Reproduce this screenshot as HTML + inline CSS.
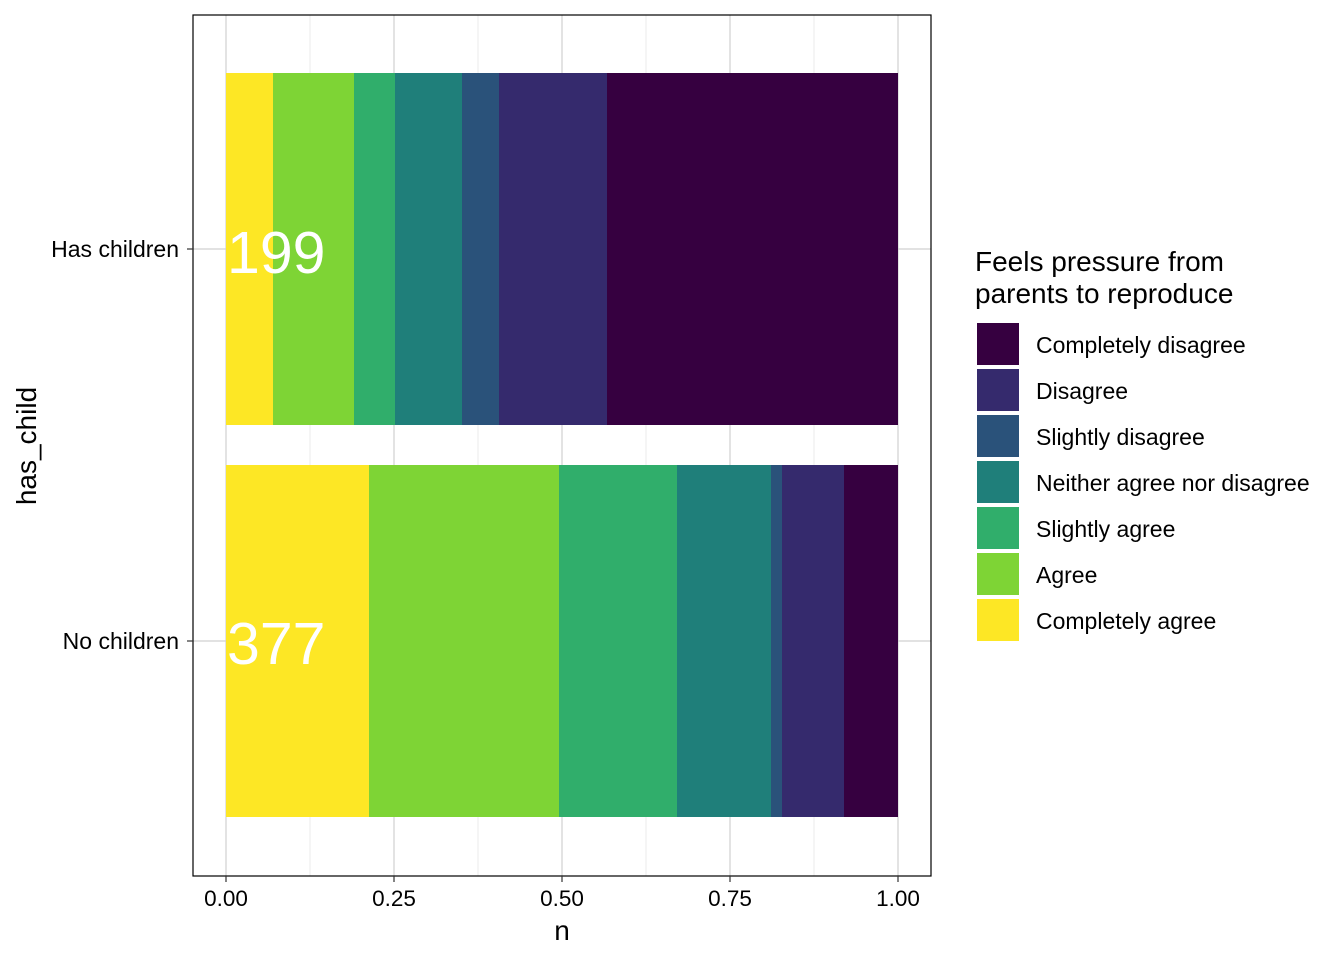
<!DOCTYPE html>
<html><head><style>body{margin:0;background:#fff}</style></head><body>
<svg width="1344" height="960" xmlns="http://www.w3.org/2000/svg" font-family="Liberation Sans, Arial, sans-serif">
<rect width="1344" height="960" fill="#fff"/>
<g stroke="#ebebeb" stroke-width="1">
<line x1="310" y1="15" x2="310" y2="876"/><line x1="478" y1="15" x2="478" y2="876"/><line x1="646" y1="15" x2="646" y2="876"/><line x1="814" y1="15" x2="814" y2="876"/>
</g>
<g stroke="#d0d0d0" stroke-width="1.2">
<line x1="226" y1="15" x2="226" y2="876"/><line x1="394" y1="15" x2="394" y2="876"/><line x1="562" y1="15" x2="562" y2="876"/><line x1="730" y1="15" x2="730" y2="876"/><line x1="898" y1="15" x2="898" y2="876"/>
<line x1="193" y1="249" x2="931" y2="249"/><line x1="193" y1="641" x2="931" y2="641"/>
</g>
<g>
<rect x="226" y="73" width="47" height="352" fill="#FDE725"/>
<rect x="273" y="73" width="81" height="352" fill="#7ED435"/>
<rect x="354" y="73" width="41" height="352" fill="#30AE6B"/>
<rect x="395" y="73" width="67" height="352" fill="#1F7F7A"/>
<rect x="462" y="73" width="37" height="352" fill="#2A527A"/>
<rect x="499" y="73" width="108" height="352" fill="#352A6D"/>
<rect x="607" y="73" width="291" height="352" fill="#360040"/>
<rect x="226" y="465" width="143" height="352" fill="#FDE725"/>
<rect x="369" y="465" width="190" height="352" fill="#7ED435"/>
<rect x="559" y="465" width="118" height="352" fill="#30AE6B"/>
<rect x="677" y="465" width="94" height="352" fill="#1F7F7A"/>
<rect x="771" y="465" width="11" height="352" fill="#2A527A"/>
<rect x="782" y="465" width="62" height="352" fill="#352A6D"/>
<rect x="844" y="465" width="54" height="352" fill="#360040"/>
</g>
<text x="227" y="273" font-size="59" fill="#fff">199</text>
<text x="227" y="664" font-size="59" fill="#fff">377</text>
<rect x="193" y="15" width="738" height="861" fill="none" stroke="#000" stroke-width="1.2"/>
<g stroke="#333" stroke-width="1.2">
<line x1="187" y1="249" x2="193" y2="249"/><line x1="187" y1="641" x2="193" y2="641"/>
<line x1="226" y1="876" x2="226" y2="882"/><line x1="394" y1="876" x2="394" y2="882"/><line x1="562" y1="876" x2="562" y2="882"/><line x1="730" y1="876" x2="730" y2="882"/><line x1="898" y1="876" x2="898" y2="882"/>
</g>
<g font-size="23" fill="#000">
<text x="179" y="257" text-anchor="end">Has children</text>
<text x="179" y="649" text-anchor="end">No children</text>
<g text-anchor="middle" font-size="22.5">
<text x="226" y="906">0.00</text><text x="394" y="906">0.25</text><text x="562" y="906">0.50</text><text x="730" y="906">0.75</text><text x="898" y="906">1.00</text>
</g>
</g>
<text x="562" y="940" font-size="28" text-anchor="middle">n</text>
<text transform="translate(36,446) rotate(-90)" font-size="28" text-anchor="middle">has_child</text>
<text x="975" y="271" font-size="28">Feels pressure from</text>
<text x="975" y="303" font-size="28">parents to reproduce</text>
<g>
<rect x="977" y="323" width="42" height="42" fill="#360040"/>
<rect x="977" y="369" width="42" height="42" fill="#352A6D"/>
<rect x="977" y="415" width="42" height="42" fill="#2A527A"/>
<rect x="977" y="461" width="42" height="42" fill="#1F7F7A"/>
<rect x="977" y="507" width="42" height="42" fill="#30AE6B"/>
<rect x="977" y="553" width="42" height="42" fill="#7ED435"/>
<rect x="977" y="599" width="42" height="42" fill="#FDE725"/>
</g>
<g font-size="23" fill="#000">
<text x="1036" y="353">Completely disagree</text>
<text x="1036" y="399">Disagree</text>
<text x="1036" y="445">Slightly disagree</text>
<text x="1036" y="491">Neither agree nor disagree</text>
<text x="1036" y="537">Slightly agree</text>
<text x="1036" y="583">Agree</text>
<text x="1036" y="629">Completely agree</text>
</g>
</svg>
</body></html>
